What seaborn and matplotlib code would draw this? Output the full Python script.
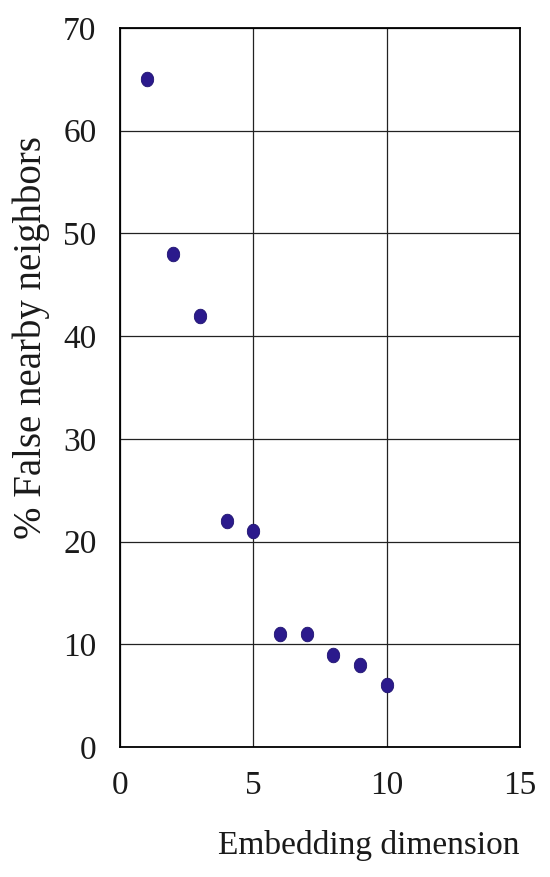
import matplotlib
matplotlib.use("Agg")
import matplotlib.pyplot as plt
import numpy as np
import pandas as pd
import seaborn as sns

# data
embedding_dim = [1, 2, 3, 4, 5, 6, 7, 8, 9, 10]
false_neighbors = [65, 48, 42, 22, 21, 11, 11, 9, 8, 6]
x_ticks = [0, 5, 10, 15]
y_ticks = [0, 10, 20, 30, 40, 50, 60, 70]

df = pd.DataFrame({"dim": embedding_dim, "fnn": false_neighbors})

sns.set_style("white")
plt.rcParams["font.family"] = ["Liberation Serif", "DejaVu Serif"]

fig = plt.figure(figsize=(5.5, 8.77), dpi=100)
ax = fig.add_axes([120 / 550, 1 - 747 / 877, 400 / 550, 719 / 877])

# slightly tall ellipse marker like the reference dots
t = np.linspace(0, 2 * np.pi, 40)
ellipse = np.column_stack([0.85 * np.cos(t), np.sin(t)])

sns.scatterplot(data=df, x="dim", y="fnn", ax=ax, color="#2b1a8c",
                marker=ellipse, s=110, edgecolor="#1e1270", linewidth=0.6,
                zorder=3)

ax.set_xlim(0, 15)
ax.set_ylim(0, 70)
ax.set_xticks(x_ticks)
ax.set_yticks(y_ticks)
ax.grid(True, color="#222222", linewidth=0.9)
for s in ax.spines.values():
    s.set_visible(True)
    s.set_color("black")
    s.set_linewidth(1.3)
ax.tick_params(length=0, labelsize=24, colors="#1a1a1a")
ax.tick_params(axis="x", pad=17)
ax.tick_params(axis="y", pad=17)

ax.set_xlabel("Embedding dimension", fontsize=24, color="#1a1a1a")
ax.xaxis.set_label_coords(1.0, -0.137)
ax.xaxis.label.set_horizontalalignment("right")
ax.xaxis.label.set_verticalalignment("center")

ax.set_ylabel("% False nearby neighbors", fontsize=28, color="#1a1a1a")
ax.yaxis.set_label_coords(-0.222, 0.57)
ax.yaxis.label.set_verticalalignment("center")

fig.savefig("out.png", dpi=100)
